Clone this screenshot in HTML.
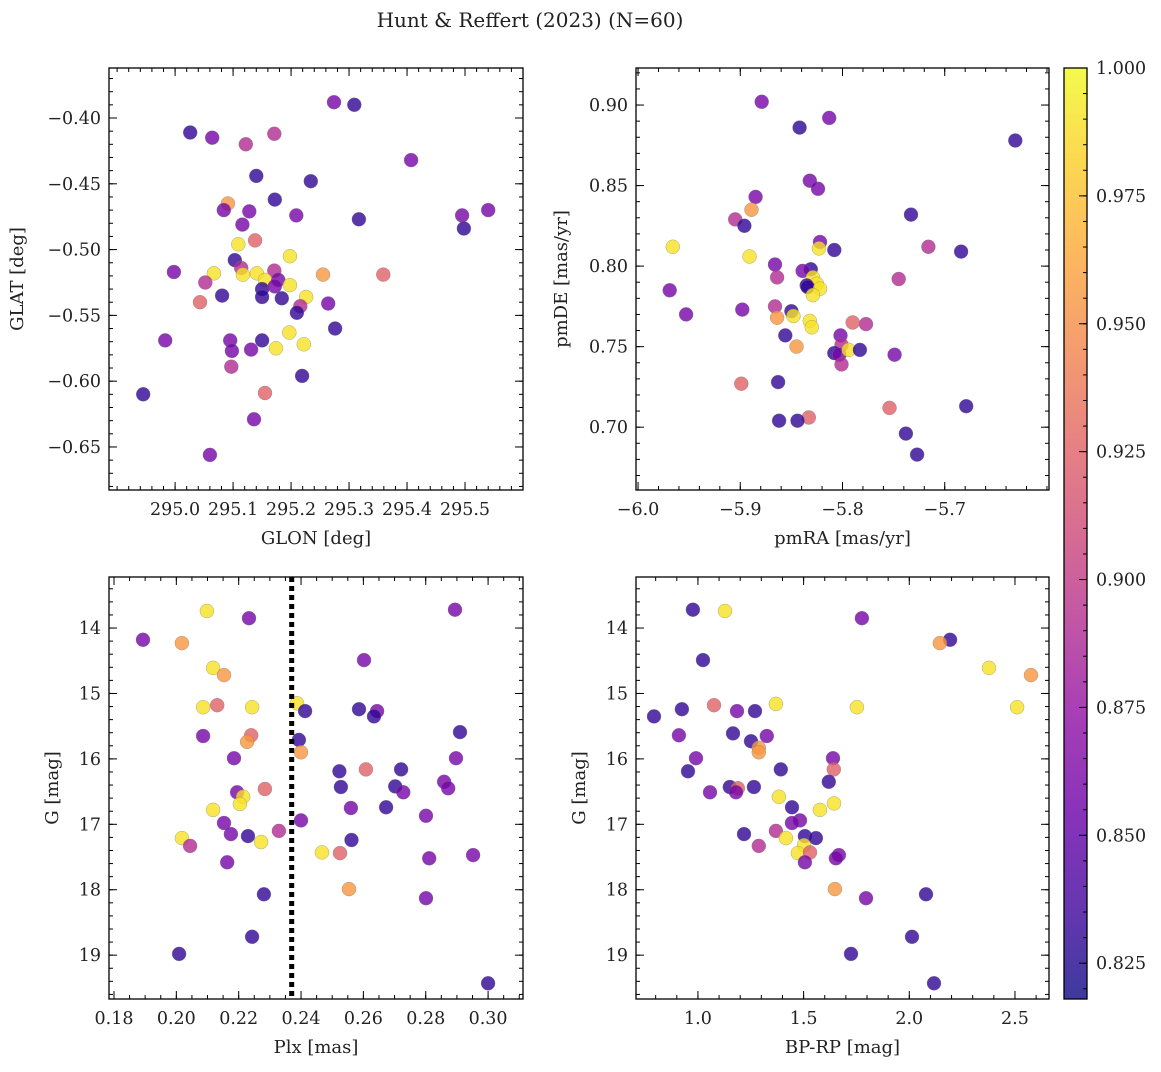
<!DOCTYPE html>
<html><head><meta charset="utf-8">
<style>
html,body{margin:0;padding:0;background:#fff;}
svg text{font-family:"DejaVu Serif","Liberation Serif",serif;fill:#222;}
</style></head>
<body>
<svg id="fig" width="1161" height="1067" viewBox="0 0 1161 1067" xmlns="http://www.w3.org/2000/svg">
<defs>
<linearGradient id="plasma" x1="0" y1="1" x2="0" y2="0">
<stop offset="0" stop-color="#0d0887"/><stop offset="0.1" stop-color="#41049d"/><stop offset="0.2" stop-color="#6a00a8"/><stop offset="0.3" stop-color="#8f0da4"/><stop offset="0.4" stop-color="#b12a90"/><stop offset="0.5" stop-color="#cc4778"/><stop offset="0.6" stop-color="#e16462"/><stop offset="0.7" stop-color="#f2844b"/><stop offset="0.8" stop-color="#fca636"/><stop offset="0.9" stop-color="#fcce25"/><stop offset="1" stop-color="#f0f921"/>
</linearGradient>
</defs>
<text x="530" y="27" font-size="20" text-anchor="middle">Hunt &amp; Reffert (2023) (N=60)</text>
</svg>
<script>
// ---- data ----
const glon = [295.026,295.064,295.122,295.171,295.274,295.309,295.407,295.140,295.234,295.172,295.091,295.084,295.128,295.209,295.116,295.317,295.495,295.540,295.498,295.138,295.109,295.198,295.103,294.998,295.067,295.114,295.117,295.141,295.171,295.052,295.155,295.178,295.255,295.359,295.150,295.172,295.198,295.043,295.081,295.150,295.184,295.226,295.264,295.216,295.210,295.095,295.098,294.983,295.150,295.197,295.222,295.174,295.131,295.276,295.097,295.219,294.945,295.155,295.136,295.060];
const glat = [-0.411,-0.415,-0.420,-0.412,-0.388,-0.390,-0.432,-0.444,-0.448,-0.462,-0.465,-0.470,-0.471,-0.474,-0.481,-0.477,-0.474,-0.470,-0.484,-0.493,-0.496,-0.505,-0.508,-0.517,-0.518,-0.514,-0.519,-0.518,-0.516,-0.525,-0.523,-0.523,-0.519,-0.519,-0.530,-0.528,-0.527,-0.540,-0.535,-0.536,-0.537,-0.536,-0.541,-0.543,-0.548,-0.569,-0.577,-0.569,-0.569,-0.563,-0.572,-0.575,-0.576,-0.560,-0.589,-0.596,-0.610,-0.609,-0.629,-0.656];
const prob1 = [0.83,0.86,0.89,0.89,0.86,0.83,0.86,0.83,0.83,0.83,0.955,0.86,0.86,0.86,0.86,0.83,0.86,0.86,0.83,0.925,0.99,0.99,0.83,0.86,0.99,0.89,0.99,0.99,0.89,0.89,0.99,0.86,0.955,0.925,0.83,0.86,0.99,0.925,0.83,0.83,0.83,0.99,0.86,0.89,0.83,0.86,0.86,0.86,0.83,0.99,0.99,0.99,0.86,0.83,0.89,0.83,0.83,0.925,0.86,0.86];

const pmra = [-5.879,-5.842,-5.813,-5.631,-5.832,-5.824,-5.885,-5.889,-5.733,-5.905,-5.896,-5.966,-5.822,-5.823,-5.808,-5.716,-5.684,-5.891,-5.831,-5.839,-5.866,-5.969,-5.745,-5.864,-5.829,-5.825,-5.835,-5.834,-5.822,-5.829,-5.953,-5.898,-5.866,-5.850,-5.864,-5.848,-5.832,-5.830,-5.856,-5.802,-5.777,-5.790,-5.845,-5.801,-5.808,-5.803,-5.794,-5.783,-5.749,-5.801,-5.899,-5.863,-5.754,-5.679,-5.833,-5.862,-5.844,-5.738,-5.727];
const pmde = [0.902,0.886,0.892,0.878,0.853,0.848,0.843,0.835,0.832,0.829,0.825,0.812,0.815,0.811,0.810,0.812,0.809,0.806,0.798,0.797,0.801,0.785,0.792,0.793,0.793,0.789,0.788,0.787,0.786,0.782,0.770,0.773,0.775,0.772,0.768,0.769,0.766,0.762,0.757,0.757,0.764,0.765,0.750,0.751,0.746,0.745,0.748,0.748,0.745,0.739,0.727,0.728,0.712,0.713,0.706,0.704,0.704,0.696,0.683];
const prob2 = [0.86,0.83,0.86,0.83,0.86,0.86,0.86,0.955,0.83,0.89,0.83,0.99,0.86,0.99,0.83,0.89,0.83,0.99,0.83,0.86,0.86,0.86,0.89,0.89,0.99,0.99,0.83,0.83,0.99,0.99,0.86,0.86,0.89,0.83,0.955,0.99,0.99,0.99,0.83,0.86,0.89,0.925,0.955,0.89,0.83,0.86,0.99,0.83,0.86,0.89,0.925,0.83,0.925,0.83,0.925,0.83,0.83,0.83,0.83];

const plx = [0.1893,0.2098,0.2233,0.2894,0.2018,0.2602,0.2118,0.2153,0.2131,0.2086,0.2243,0.2387,0.2413,0.2586,0.2644,0.2634,0.2086,0.2240,0.2227,0.2393,0.2910,0.2400,0.2185,0.2897,0.2608,0.2721,0.2523,0.2702,0.2728,0.2859,0.2872,0.2528,0.2195,0.2214,0.2204,0.2284,0.2118,0.2560,0.2673,0.2801,0.2153,0.2400,0.2329,0.2175,0.2230,0.2018,0.2562,0.2044,0.2272,0.2467,0.2525,0.2952,0.2811,0.2163,0.2554,0.2281,0.2801,0.2243,0.2009,0.3000];
const gmag3 = [14.18,13.74,13.85,13.72,14.23,14.49,14.61,14.72,15.18,15.21,15.21,15.15,15.27,15.24,15.27,15.35,15.65,15.64,15.74,15.71,15.59,15.90,15.99,15.99,16.16,16.16,16.19,16.42,16.51,16.35,16.45,16.43,16.51,16.58,16.69,16.46,16.78,16.75,16.74,16.87,16.98,16.94,17.10,17.15,17.18,17.21,17.24,17.33,17.27,17.43,17.44,17.47,17.52,17.58,17.99,18.07,18.13,18.72,18.98,19.43];
const prob3 = [0.86,0.99,0.86,0.86,0.955,0.86,0.99,0.955,0.925,0.99,0.99,0.99,0.83,0.83,0.86,0.83,0.86,0.925,0.955,0.83,0.83,0.955,0.86,0.86,0.925,0.83,0.83,0.83,0.86,0.86,0.86,0.83,0.86,0.99,0.99,0.925,0.99,0.86,0.83,0.86,0.86,0.86,0.89,0.86,0.83,0.99,0.83,0.89,0.99,0.99,0.925,0.86,0.86,0.86,0.955,0.83,0.86,0.83,0.83,0.83];

const bprp = [0.976,1.128,1.776,2.193,2.145,1.024,2.377,2.576,1.076,1.369,1.752,2.510,0.924,1.185,1.270,0.792,0.910,1.166,1.326,1.251,1.288,1.288,0.991,1.639,0.953,1.392,1.643,1.619,1.383,1.057,1.151,1.189,1.180,1.265,1.445,1.644,1.577,1.483,1.445,1.369,1.218,1.416,1.506,1.502,1.558,1.288,1.473,1.530,1.667,1.653,1.506,1.648,1.795,2.079,2.013,1.724,2.117];
const gmag4 = [13.72,13.74,13.85,14.18,14.23,14.49,14.61,14.72,15.18,15.16,15.21,15.21,15.24,15.27,15.27,15.35,15.64,15.61,15.65,15.73,15.83,15.90,15.99,15.99,16.19,16.16,16.16,16.35,16.58,16.51,16.43,16.45,16.51,16.43,16.74,16.68,16.78,16.94,16.98,17.10,17.15,17.21,17.18,17.32,17.21,17.33,17.44,17.43,17.47,17.52,17.58,17.99,18.13,18.07,18.72,18.98,19.43];
const prob4 = [0.83,0.99,0.86,0.83,0.955,0.83,0.99,0.955,0.925,0.99,0.99,0.99,0.83,0.86,0.83,0.83,0.86,0.83,0.86,0.83,0.955,0.955,0.86,0.86,0.83,0.83,0.925,0.83,0.99,0.86,0.83,0.925,0.86,0.83,0.83,0.99,0.99,0.86,0.86,0.89,0.83,0.99,0.83,0.99,0.83,0.89,0.99,0.925,0.86,0.86,0.86,0.955,0.86,0.83,0.83,0.83,0.83];

const plxCut = 0.237;
const cbTicks = [0.825,0.850,0.875,0.900,0.925,0.950,0.975,1.000];
const CMIN = 0.818, CMAX = 1.0;

// ---- rendering ----
const NS = "http://www.w3.org/2000/svg";
const svg = document.getElementById('fig');
function mk(tag, attrs, parent){
  const e = document.createElementNS(NS, tag);
  for (const k in attrs) e.setAttribute(k, attrs[k]);
  (parent||svg).appendChild(e); return e;
}
const stops = [[0,13,8,135],[0.1,65,4,157],[0.2,106,0,168],[0.3,143,13,164],[0.4,177,42,144],[0.5,204,71,120],[0.6,225,100,98],[0.7,242,132,75],[0.8,252,166,54],[0.9,252,206,37],[1,240,249,33]];
function plasma(v){
  let t = Math.max(0, Math.min(1, (v-CMIN)/(CMAX-CMIN)));
  for (let i=1;i<stops.length;i++){
    if (t<=stops[i][0]){
      const a=stops[i-1], b=stops[i], f=(t-a[0])/(b[0]-a[0]);
      return `rgb(${Math.round(a[1]+f*(b[1]-a[1]))},${Math.round(a[2]+f*(b[2]-a[2]))},${Math.round(a[3]+f*(b[3]-a[3]))})`;
    }
  }
  return 'rgb(240,249,33)';
}

function panel(o){
  const g = mk('g', {});
  
  
  const {x0,x1,y0,y1} = o.box;
  const sx = v => x0 + (v-o.xr[0])/(o.xr[1]-o.xr[0])*(x1-x0);
  const sy = o.yinv ? (v => y0 + (v-o.yr[0])/(o.yr[1]-o.yr[0])*(y1-y0))
                    : (v => y1 - (v-o.yr[0])/(o.yr[1]-o.yr[0])*(y1-y0));
  const pg = mk('g', {}, g);
  
  
  for (let i=0;i<o.xs.length;i++){
    const c = mk('circle', {cx:sx(o.xs[i]).toFixed(1), cy:sy(o.ys[i]).toFixed(1), r:7, fill:plasma(o.cs[i]), 'fill-opacity':0.8, stroke:'#777', 'stroke-width':0.5, 'stroke-opacity':0.6}, pg);
    
    
  }
  if (o.vline !== undefined){
    const l = mk('line', {x1:sx(o.vline), x2:sx(o.vline), y1:y0, y2:y1, stroke:'#000', 'stroke-width':5, 'stroke-dasharray':'5,4'}, g);
    
    
  }
  const fr = mk('rect', {x:x0, y:y0, width:x1-x0, height:y1-y0, fill:'none', stroke:'#000', 'stroke-width':1.3}, g);
  
  
  const tg = mk('g', {stroke:'#000', 'stroke-width':1}, g);
  const eps = 1e-9;
  function ticks(lo, hi, step, fn){ const s=Math.ceil((lo-eps)/step); for (let k=s; k*step<=hi+eps; k++) fn(k*step); }
  const xlo=Math.min(...o.xr), xhi=Math.max(...o.xr), ylo=Math.min(...o.yr), yhi=Math.max(...o.yr);
  ticks(xlo,xhi,o.xminor,v=>{const x=sx(v); mk('line',{x1:x,x2:x,y1:y1,y2:y1-4},tg); mk('line',{x1:x,x2:x,y1:y0,y2:y0+4},tg);});
  ticks(ylo,yhi,o.yminor,v=>{const y=sy(v); mk('line',{x1:x0,x2:x0+4,y1:y,y2:y},tg); mk('line',{x1:x1,x2:x1-4,y1:y,y2:y},tg);});
  o.xticks.forEach(v=>{const x=sx(v); mk('line',{x1:x,x2:x,y1:y1,y2:y1-8},tg); mk('line',{x1:x,x2:x,y1:y0,y2:y0+8},tg);
    const t=mk('text',{x:x,y:y1+25,'font-size':17.5,'text-anchor':'middle'},g); t.textContent=v.toFixed(o.xdec).replace('-','\u2212');
     });
  o.yticks.forEach(v=>{const y=sy(v); mk('line',{x1:x0,x2:x0+8,y1:y,y2:y},tg); mk('line',{x1:x1,x2:x1-8,y1:y,y2:y},tg);
    const t=mk('text',{x:x0-8,y:y+6,'font-size':17.5,'text-anchor':'end'},g); t.textContent=v.toFixed(o.ydec).replace('-','\u2212');
     });
  const xl = mk('text',{x:(x0+x1)/2, y:y1+54, 'font-size':18, 'text-anchor':'middle'}, g); xl.textContent=o.xlabel;
   
  const yl = mk('text',{x:0, y:0, 'font-size':18, 'text-anchor':'middle', transform:`translate(${o.ylx},${(y0+y1)/2}) rotate(-90)`}, g); yl.textContent=o.ylabel;
   
}

panel({name:'glon-glat-panel', box:{x0:109,x1:523,y0:68,y1:490}, xr:[294.886,295.600], yr:[-0.6827,-0.3620],
  xs:glon, ys:glat, cs:prob1, xticks:[295.0,295.1,295.2,295.3,295.4,295.5], xdec:1, yticks:[-0.65,-0.60,-0.55,-0.50,-0.45,-0.40], ydec:2,
  xminor:0.02, yminor:0.01, xlabel:'GLON [deg]', ylabel:'GLAT [deg]', ylx:23});
panel({name:'proper-motion-panel', box:{x0:636,x1:1049,y0:68,y1:490}, xr:[-6.002,-5.598], yr:[0.661,0.923],
  xs:pmra, ys:pmde, cs:prob2, xticks:[-6.0,-5.9,-5.8,-5.7], xdec:1, yticks:[0.70,0.75,0.80,0.85,0.90], ydec:2,
  xminor:0.02, yminor:0.01, xlabel:'pmRA [mas/yr]', ylabel:'pmDE [mas/yr]', ylx:567});
panel({name:'parallax-magnitude-panel', box:{x0:109,x1:523,y0:577,y1:999}, xr:[0.1784,0.3112], yr:[13.22,19.67], yinv:true,
  xs:plx, ys:gmag3, cs:prob3, xticks:[0.18,0.20,0.22,0.24,0.26,0.28,0.30], xdec:2, yticks:[14,15,16,17,18,19], ydec:0,
  xminor:0.005, yminor:0.2, xlabel:'Plx [mas]', ylabel:'G [mag]', ylx:58, vline:plxCut});
panel({name:'cmd-panel', box:{x0:636,x1:1049,y0:577,y1:999}, xr:[0.707,2.661], yr:[13.22,19.67], yinv:true,
  xs:bprp, ys:gmag4, cs:prob4, xticks:[1.0,1.5,2.0,2.5], xdec:1, yticks:[14,15,16,17,18,19], ydec:0,
  xminor:0.1, yminor:0.2, xlabel:'BP-RP [mag]', ylabel:'G [mag]', ylx:585});

const cb = mk('g', {});


const CB = {x0:1064, x1:1087, y0:68, y1:999};
mk('rect', {x:CB.x0, y:CB.y0, width:CB.x1-CB.x0, height:CB.y1-CB.y0, fill:'url(#plasma)', 'fill-opacity':0.8}, cb);
mk('rect', {x:CB.x0, y:CB.y0, width:CB.x1-CB.x0, height:CB.y1-CB.y0, fill:'none', stroke:'#000', 'stroke-width':1.3}, cb);
const cy = v => CB.y1 - (v-CMIN)/(CMAX-CMIN)*(CB.y1-CB.y0);
for (let k=Math.ceil(CMIN/0.005); k*0.005<=CMAX+1e-9; k++){ const y=cy(k*0.005); mk('line',{x1:CB.x1,x2:CB.x1-4,y1:y,y2:y,stroke:'#000'},cb); }
cbTicks.forEach(v=>{ const y=cy(v); mk('line',{x1:CB.x1,x2:CB.x1-8,y1:y,y2:y,stroke:'#000'},cb);
  const t=mk('text',{x:CB.x1+9,y:y+6,'font-size':17.5},cb); t.textContent=v.toFixed(3);
    });
</script>
</body></html>
